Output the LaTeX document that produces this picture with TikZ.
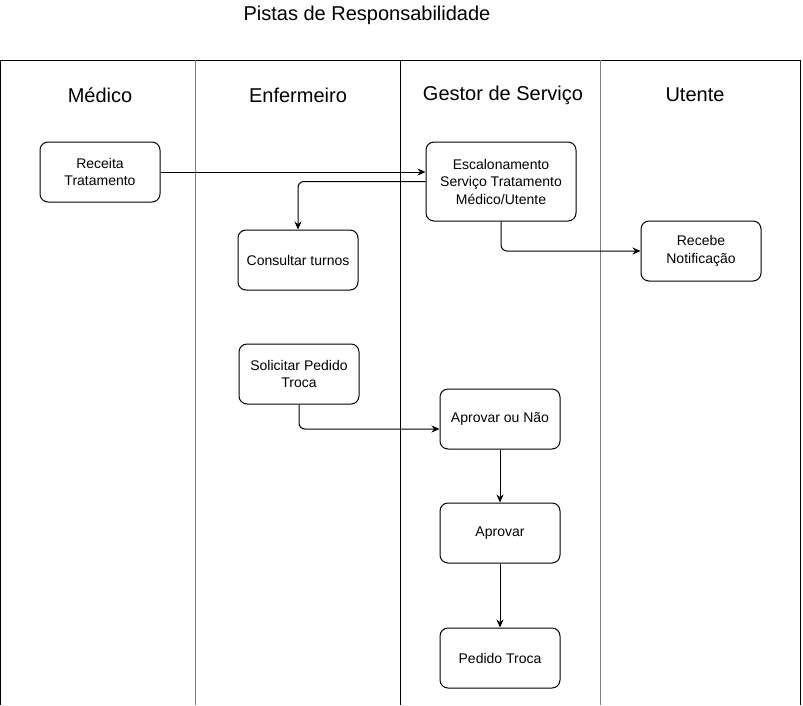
\documentclass[tikz,border=0pt]{standalone}
\usepackage{fontspec}
\setmainfont{Liberation Sans}
\usetikzlibrary{positioning,arrows.meta}

\begin{document}
\begin{tikzpicture}[x=1pt,y=-1pt,line width=1pt,
    box/.style={draw,rounded corners=8pt,minimum width=120pt,minimum height=60pt,inner sep=2pt,align=center,font=\fontsize{14}{17.5}\selectfont},
    lanetitle/.style={font=\fontsize{20}{24}\selectfont},
    flow/.style={-{Stealth[length=8pt,width=7pt]},rounded corners=6pt}]
    \useasboundingbox (0,0) rectangle (803,705);
    \node (titulo) at (367,15) {\fontsize{20}{24}\selectfont Pistas de Responsabilidade};
    \draw (0,705) -- (0,60) -- (800,60) -- (800,705);
    \draw[gray] (195,60) -- (195,705);
    \draw (400,60) -- (400,705);
    \draw[gray] (600,60) -- (600,705);
    \node[lanetitle] (medico) at (100,95) {Médico};
    \node[lanetitle] (enfermeiro) at (298,95) {Enfermeiro};
    \node[lanetitle] (gestor) at (503,95) {Gestor de Serviço};
    \node[lanetitle] (utente) at (695,95) {Utente};
    \node[box] (receita) at (100,172) {Receita\\Tratamento};
    \node[box,minimum width=150pt,minimum height=79pt] (escalonamento) at (501,181.5) {Escalonamento\\Serviço Tratamento\\Médico/Utente};
    \node[box] (consultar) at (298,260) {Consultar turnos};
    \node[box] (recebe) at (701,251) {Recebe\\Notificação};
    \node[box] (solicitar) at (299,374) {Solicitar Pedido\\Troca};
    \node[box] (aprovarounao) at (500,419) {Aprovar ou Não};
    \node[box] (aprovar) at (500,533) {Aprovar};
    \node[box] (pedido) at (500,658) {Pedido Troca};
    \draw[flow] (receita.east) -- (receita.east -| escalonamento.west);
    \draw[flow] (escalonamento.west) -| (consultar.north);
    \draw[flow] (escalonamento.south) |- (recebe.west);
    \draw[flow] (solicitar.south) |- ([yshift=-10pt]aprovarounao.west);
    \draw[flow] (aprovarounao) -- (aprovar);
    \draw[flow] (aprovar) -- (pedido);
\end{tikzpicture}
\end{document}
